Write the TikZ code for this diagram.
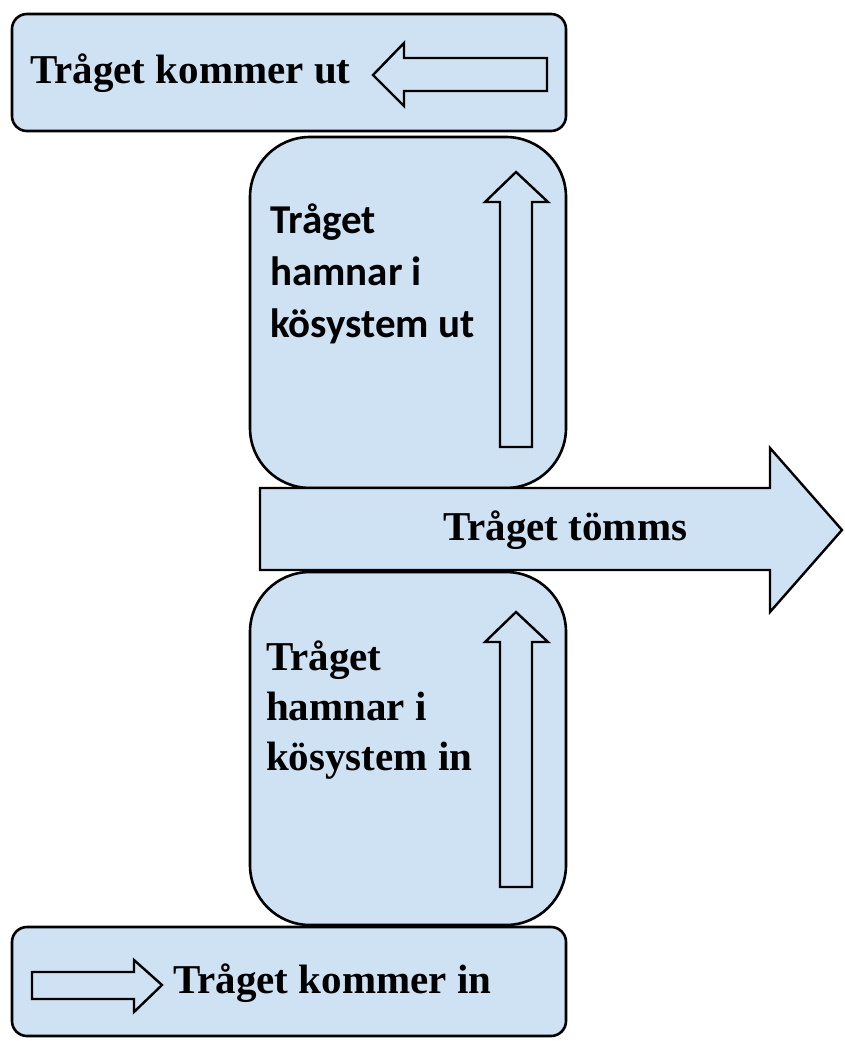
\documentclass[tikz,border=0pt]{standalone}
\usepackage{fontspec}
\setmainfont{Liberation Serif}
\newfontfamily\calib{Carlito}
\definecolor{boxblue}{RGB}{207,226,243}
\begin{document}
\begin{tikzpicture}[x=1pt,y=-1pt,
  panel/.style={draw=black, fill=boxblue, line width=2.6pt},
  blockarrow/.style={draw=black, fill=boxblue, line width=2.4pt, line join=miter},
  serifbold/.style={font=\fontsize{41}{50}\selectfont\bfseries, inner sep=0pt},
  sansbold/.style={font=\calib\fontsize{41}{52}\selectfont\bfseries, inner sep=0pt, align=left},
]
\useasboundingbox (0,0) rectangle (845,1041);
% boxes
\draw[panel, rounded corners=15pt] (12,14) rectangle (566,131);
\draw[panel, rounded corners=15pt] (12,927) rectangle (566,1036);
\draw[panel, rounded corners=60pt] (250,137) rectangle (566,488);
\draw[panel, rounded corners=60pt] (250,572) rectangle (566,925);
% big arrow
\draw[blockarrow] (260,488) -- (770,488) -- (770,448) -- (842,530) -- (770,612) -- (770,570) -- (260,570) -- cycle;
% small block arrows
\draw[blockarrow] (373,75) -- (404,43) -- (404,58) -- (547,58) -- (547,91) -- (404,91) -- (404,106) -- cycle;
\draw[blockarrow] (162,985) -- (134,960) -- (134,972) -- (32,972) -- (32,999) -- (134,999) -- (134,1012) -- cycle;
\draw[blockarrow] (516,172) -- (548,202) -- (532,202) -- (532,447) -- (500,447) -- (500,202) -- (485,202) -- cycle;
\draw[blockarrow] (516,612) -- (548,642) -- (532,642) -- (532,887) -- (500,887) -- (500,642) -- (485,642) -- cycle;
% texts
\node[serifbold, anchor=base west] (tut) at (30,83) {Tråget kommer ut};
\node[serifbold, anchor=base west] (tin) at (173,993) {Tråget kommer in};
\node[serifbold, anchor=base west] (tom) at (443,540) {Tråget tömms};
\node[sansbold, anchor=north west] (kut) at (270,204) {Tråget\\hamnar i\\kösystem ut};
\node[serifbold, align=left, anchor=north west] (kin) at (266,641) {Tråget\\hamnar i\\kösystem in};
\end{tikzpicture}
\end{document}
